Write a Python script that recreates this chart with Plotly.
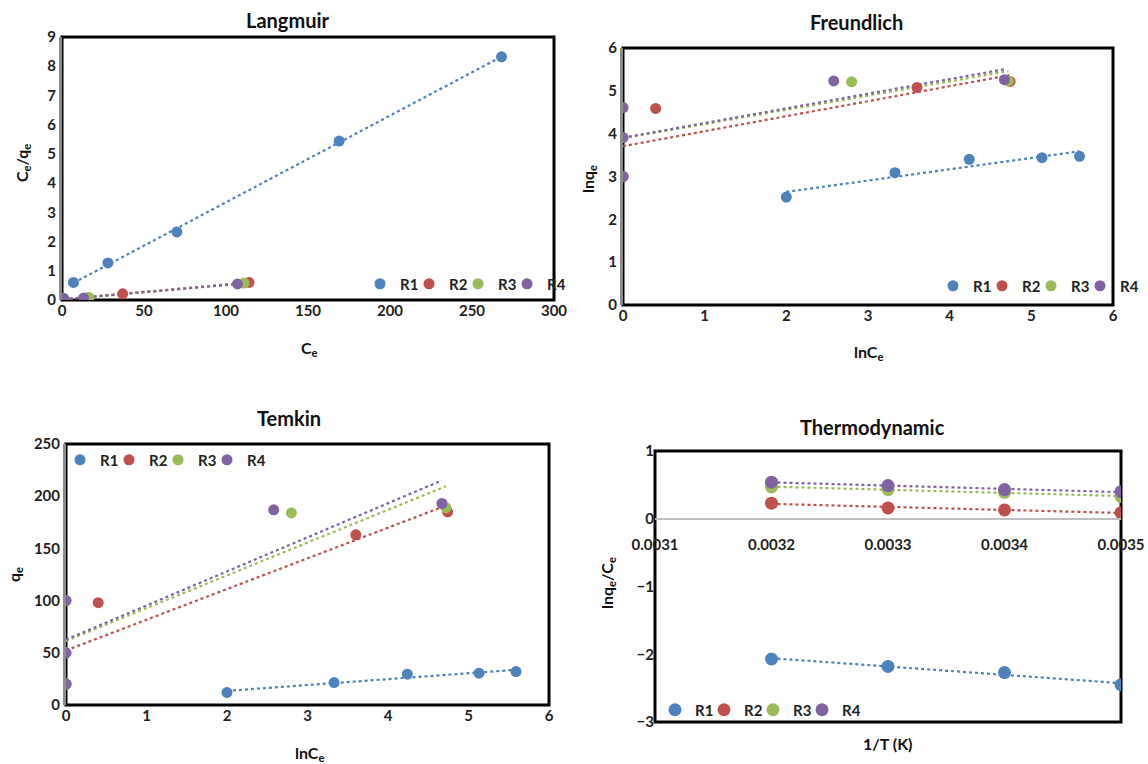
import numpy as np
import plotly.graph_objects as go

series = ["R1", "R2", "R3", "R4"]
colors = ["#4F81BD", "#C0504D", "#9BBB59", "#8064A2"]

# Langmuir: Ce vs Ce/qe
lang_ce = {
    "R1": [7, 28, 70, 169, 268],
    "R2": [1, 1.5, 37, 114],
    "R3": [1, 1, 1, 16.4, 111],
    "R4": [1, 1, 1, 13.2, 107],
}
lang_ceqe = {
    "R1": [0.60, 1.27, 2.33, 5.44, 8.32],
    "R2": [0.05, 0.015, 0.21, 0.60],
    "R3": [0.05, 0.02, 0.01, 0.09, 0.58],
    "R4": [0.05, 0.02, 0.01, 0.07, 0.55],
}

# Freundlich / Temkin: lnCe
ln_ce = {
    "R1": [2.00, 3.33, 4.24, 5.13, 5.59],
    "R2": [0, 0.40, 3.60, 4.74],
    "R3": [0, 0, 0, 2.80, 4.72],
    "R4": [0, 0, 0, 2.58, 4.67],
}
ln_qe = {
    "R1": [2.52, 3.09, 3.40, 3.44, 3.47],
    "R2": [3.00, 4.59, 5.08, 5.22],
    "R3": [3.00, 3.91, 4.61, 5.21, 5.23],
    "R4": [3.00, 3.91, 4.61, 5.23, 5.26],
}
qe = {
    "R1": [12, 21.5, 29.5, 30.5, 32],
    "R2": [20, 98, 163, 185],
    "R3": [20, 50, 100, 184, 189],
    "R4": [20, 50, 100, 187, 193],
}

# Thermodynamic
inv_t = [0.0032, 0.0033, 0.0034, 0.0035]
thermo = {
    "R1": [-2.07, -2.18, -2.27, -2.45],
    "R2": [0.23, 0.16, 0.13, 0.09],
    "R3": [0.47, 0.43, 0.39, 0.33],
    "R4": [0.54, 0.49, 0.43, 0.40],
}

FONT = "Lato"
fig = go.Figure()

panels = [
    ("x", "y", "legend", lang_ce, lang_ceqe, 11),
    ("x2", "y2", "legend2", ln_ce, ln_qe, 11),
    ("x3", "y3", "legend3", ln_ce, qe, 11),
    ("x4", "y4", "legend4", {s: inv_t for s in series}, thermo, 13),
]

for xa, ya, lg, xs, ys, msize in panels:
    # trendlines (linear fits of each series)
    for s, c in zip(series, colors):
        x = np.array(xs[s], dtype=float)
        y = np.array(ys[s], dtype=float)
        m, b = np.polyfit(x, y, 1)
        xl = np.array([x.min(), x.max()])
        fig.add_trace(go.Scatter(x=xl, y=m * xl + b, mode="lines",
                                 line=dict(color=c, width=2.2, dash="dot"),
                                 xaxis=xa, yaxis=ya, showlegend=False,
                                 hoverinfo="skip"))
    for s, c in zip(series, colors):
        fig.add_trace(go.Scatter(x=xs[s], y=ys[s], mode="markers", name=s,
                                 marker=dict(color=c, size=msize),
                                 xaxis=xa, yaxis=ya, legend=lg))
    # blank spacer entry so the last legend label is not clipped
    fig.add_trace(go.Scatter(x=[None], y=[None], mode="markers", name=" ",
                             marker=dict(color="rgba(0,0,0,0)", size=1),
                             xaxis=xa, yaxis=ya, legend=lg, hoverinfo="skip"))

W, H = 1148, 764
def dx(a, b):
    return [a / W, b / W]
def dy(top, bot):
    return [1 - bot / H, 1 - top / H]

dom = {
    1: (dx(62, 554), dy(37, 300)),
    2: (dx(623, 1113), dy(48, 305)),
    3: (dx(66, 549), dy(444, 705)),
    4: (dx(655, 1121), dy(451, 722)),
}

tickfont = dict(family=FONT, size=15, color="#222", weight="bold")
common_ax = dict(showgrid=False, zeroline=False, ticks="", tickfont=tickfont,
                 showline=False, automargin=False)

layout = dict(
    width=W, height=H, margin=dict(l=0, r=0, t=0, b=0, autoexpand=False),
    paper_bgcolor="white", plot_bgcolor="white",
    font=dict(family=FONT, size=14, color="#222", weight="bold"),
)

layout["xaxis"] = dict(common_ax, domain=dom[1][0], anchor="y", range=[0, 300], dtick=50)
layout["yaxis"] = dict(common_ax, domain=dom[1][1], anchor="x", range=[0, 9], dtick=1,
                       showline=True, linecolor="#8c8c8c", linewidth=3)
layout["xaxis2"] = dict(common_ax, domain=dom[2][0], anchor="y2", range=[0, 6], dtick=1)
layout["yaxis2"] = dict(common_ax, domain=dom[2][1], anchor="x2", range=[0, 6], dtick=1,
                        showline=True, linecolor="#8c8c8c", linewidth=3)
layout["xaxis3"] = dict(common_ax, domain=dom[3][0], anchor="y3", range=[0, 6], dtick=1)
layout["yaxis3"] = dict(common_ax, domain=dom[3][1], anchor="x3", range=[0, 250], dtick=50,
                        showline=True, linecolor="#8c8c8c", linewidth=3)
y4d = dom[4][1]
zero_pos = y4d[0] + (0 - (-3)) / 4 * (y4d[1] - y4d[0])
layout["xaxis4"] = dict(common_ax, domain=dom[4][0], anchor="free", position=zero_pos,
                        range=[0.0031, 0.0035], dtick=0.0001,
                        tick0=0.0031, tickformat=".4f", showline=True,
                        linecolor="#bfbfbf", linewidth=1.5, ticklabelstandoff=12)
layout["yaxis4"] = dict(common_ax, domain=y4d, anchor="x4", range=[-3, 1], dtick=1)

legfont = dict(family=FONT, size=15, color="#222", weight="bold")
def leg(xp, yp):
    return dict(orientation="h", x=xp / W, y=1 - yp / H, xanchor="left", yanchor="middle",
                font=legfont, bgcolor="rgba(0,0,0,0)", itemwidth=30,
                tracegroupgap=0, entrywidth=4, entrywidthmode="pixels")
layout["legend"] = leg(360, 284)
layout["legend2"] = leg(933, 286)
layout["legend3"] = leg(60, 460)
layout["legend4"] = leg(655, 710)

shapes = []
for i in range(1, 5):
    (x0, x1), (y0, y1) = dom[i]
    shapes.append(dict(type="rect", xref="paper", yref="paper", x0=x0, x1=x1, y0=y0, y1=y1,
                       line=dict(color="black", width=3), layer="below"))
layout["shapes"] = shapes

def ann(text, xp, yp, size=14, angle=0):
    return dict(text=text, x=xp / W, y=1 - yp / H, xref="paper", yref="paper",
                showarrow=False, textangle=angle,
                font=dict(family=FONT, size=size, color="#111", weight="bold"),
                xanchor="center", yanchor="middle")

layout["annotations"] = [
    ann("Langmuir", 287, 20, 20),
    ann("Freundlich", 856, 22, 20),
    ann("Temkin", 289, 418, 20),
    ann("Thermodynamic", 872, 427, 20),
    ann("C<sub>e</sub>", 309, 348, 16),
    ann("C<sub>e</sub>/q<sub>e</sub>", 22, 163, 16, -90),
    ann("lnC<sub>e</sub>", 868, 352, 16),
    ann("lnq<sub>e</sub>", 588, 179, 16, -90),
    ann("lnC<sub>e</sub>", 309, 753, 16),
    ann("q<sub>e</sub>", 14, 575, 16, -90),
    ann("1/T (K)", 888, 743, 16),
    ann("lnq<sub>e</sub>/C<sub>e</sub>", 607, 583, 16, -90),
]

fig.update_layout(**layout)
fig.write_html("out.html")
